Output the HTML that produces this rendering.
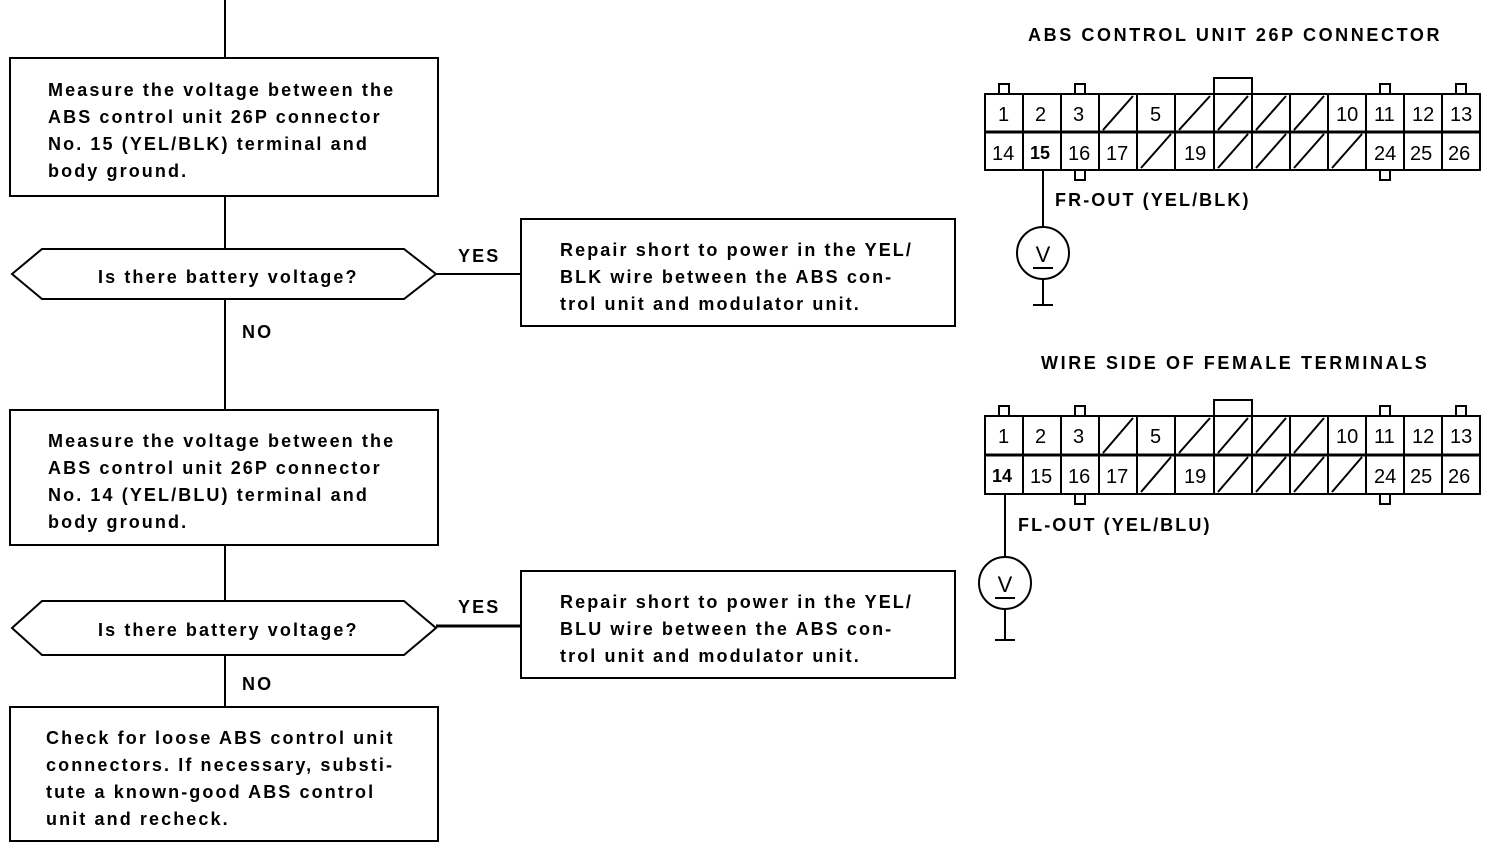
<!DOCTYPE html>
<html><head><meta charset="utf-8"><style>
html,body{margin:0;padding:0;background:#fff;}
svg{display:block;}
text{font-family:"Liberation Sans",sans-serif;font-size:18px;font-weight:bold;fill:#000;letter-spacing:2.1px;}
.h{letter-spacing:2.6px;}
.n{font-weight:normal;font-size:20px;letter-spacing:0;}
.c{text-anchor:middle;font-weight:normal;font-size:22px;letter-spacing:0;}
</style></head><body>
<svg width="1504" height="848" viewBox="0 0 1504 848" xmlns="http://www.w3.org/2000/svg">
<g stroke="#000" stroke-width="2" fill="none">
<line x1="225" y1="0" x2="225" y2="58"/>
<line x1="225" y1="196" x2="225" y2="249"/>
<line x1="225" y1="299" x2="225" y2="410"/>
<line x1="225" y1="545" x2="225" y2="601"/>
<line x1="225" y1="655" x2="225" y2="707"/>
<rect x="10" y="58" width="428" height="138"/>
<rect x="10" y="410" width="428" height="135"/>
<rect x="10" y="707" width="428" height="134"/>
<polygon points="12,274 42,249 404,249 436,274 404,299 42,299"/>
<polygon points="12,628 42,601 404,601 436,628 404,655 42,655"/>
<line x1="436" y1="274" x2="521" y2="274"/>
<line x1="436" y1="626" x2="521" y2="626" stroke-width="3"/>
<rect x="521" y="219" width="434" height="107"/>
<rect x="521" y="571" width="434" height="107"/>
</g>
<text x="48" y="96">Measure the voltage between the</text>
<text x="48" y="123">ABS control unit 26P connector</text>
<text x="48" y="150">No. 15 (YEL/BLK) terminal and</text>
<text x="48" y="177">body ground.</text>
<text x="98" y="283">Is there battery voltage?</text>
<text x="458" y="262">YES</text>
<text x="242" y="338">NO</text>
<text x="560" y="256">Repair short to power in the YEL/</text>
<text x="560" y="283">BLK wire between the ABS con-</text>
<text x="560" y="310">trol unit and modulator unit.</text>
<text x="48" y="447">Measure the voltage between the</text>
<text x="48" y="474">ABS control unit 26P connector</text>
<text x="48" y="501">No. 14 (YEL/BLU) terminal and</text>
<text x="48" y="528">body ground.</text>
<text x="98" y="636">Is there battery voltage?</text>
<text x="458" y="613">YES</text>
<text x="242" y="690">NO</text>
<text x="560" y="608">Repair short to power in the YEL/</text>
<text x="560" y="635">BLU wire between the ABS con-</text>
<text x="560" y="662">trol unit and modulator unit.</text>
<text x="46" y="744">Check for loose ABS control unit</text>
<text x="46" y="771">connectors. If necessary, substi-</text>
<text x="46" y="798">tute a known-good ABS control</text>
<text x="46" y="825">unit and recheck.</text>
<text class="h" x="1028" y="41">ABS CONTROL UNIT 26P CONNECTOR</text>
<text class="h" x="1041" y="369">WIRE SIDE OF FEMALE TERMINALS</text>
<text x="1055" y="206">FR-OUT (YEL/BLK)</text>
<text x="1018" y="531">FL-OUT (YEL/BLU)</text>

<!-- connector 1 -->
<g stroke="#000" stroke-width="2" fill="none">
<rect x="985" y="94" width="495" height="76"/>
<line x1="985" y1="132" x2="1480" y2="132" stroke-width="3"/>
<path d="M1023 94V170M1061 94V170M1099 94V170M1137 94V170M1175 94V170M1214 94V170M1252 94V170M1290 94V170M1328 94V170M1366 94V170M1404 94V170M1442 94V170"/>
<path d="M999 94V84H1009V94M1075 94V84H1085V94M1380 94V84H1390V94M1456 94V84H1466V94M1075 170V180H1085V170M1380 170V180H1390V170"/>
<rect x="1214" y="78" width="38" height="16"/>
<path d="M1103 130L1133 96M1179 130L1210 96M1218 130L1248 96M1256 130L1286 96M1294 130L1324 96M1141 168L1171 134M1218 168L1248 134M1256 168L1286 134M1294 168L1324 134M1332 168L1362 134"/>
<line x1="1043" y1="170" x2="1043" y2="227"/>
<circle cx="1043" cy="253" r="26"/>
<line x1="1043" y1="279" x2="1043" y2="305"/>
<line x1="1033" y1="305" x2="1053" y2="305"/>
<line x1="1033" y1="268" x2="1053" y2="268"/>
</g>
<text class="n" x="998" y="121">1</text><text class="n" x="1035" y="121">2</text><text class="n" x="1073" y="121">3</text><text class="n" x="1150" y="121">5</text>
<text class="n" x="1336" y="121">10</text><text class="n" x="1374" y="121">11</text><text class="n" x="1412" y="121">12</text><text class="n" x="1450" y="121">13</text>
<text class="n" x="992" y="160">14</text><text x="1030" y="159" style="letter-spacing:0">15</text><text class="n" x="1068" y="160">16</text><text class="n" x="1106" y="160">17</text><text class="n" x="1184" y="160">19</text>
<text class="n" x="1374" y="160">24</text><text class="n" x="1410" y="160">25</text><text class="n" x="1448" y="160">26</text>
<text class="c" x="1043" y="262">V</text>

<!-- connector 2 -->
<g stroke="#000" stroke-width="2" fill="none">
<rect x="985" y="416" width="495" height="78"/>
<line x1="985" y1="455" x2="1480" y2="455" stroke-width="3"/>
<path d="M1023 416V494M1061 416V494M1099 416V494M1137 416V494M1175 416V494M1214 416V494M1252 416V494M1290 416V494M1328 416V494M1366 416V494M1404 416V494M1442 416V494"/>
<path d="M999 416V406H1009V416M1075 416V406H1085V416M1380 416V406H1390V416M1456 416V406H1466V416M1075 494V504H1085V494M1380 494V504H1390V494"/>
<rect x="1214" y="400" width="38" height="16"/>
<path d="M1103 453L1133 418M1179 453L1210 418M1218 453L1248 418M1256 453L1286 418M1294 453L1324 418M1141 492L1171 457M1218 492L1248 457M1256 492L1286 457M1294 492L1324 457M1332 492L1362 457"/>
<line x1="1005" y1="494" x2="1005" y2="557"/>
<circle cx="1005" cy="583" r="26"/>
<line x1="1005" y1="609" x2="1005" y2="640"/>
<line x1="995" y1="640" x2="1015" y2="640"/>
<line x1="995" y1="598" x2="1015" y2="598"/>
</g>
<text class="n" x="998" y="443">1</text><text class="n" x="1035" y="443">2</text><text class="n" x="1073" y="443">3</text><text class="n" x="1150" y="443">5</text>
<text class="n" x="1336" y="443">10</text><text class="n" x="1374" y="443">11</text><text class="n" x="1412" y="443">12</text><text class="n" x="1450" y="443">13</text>
<text x="992" y="482" style="letter-spacing:0">14</text><text class="n" x="1030" y="483">15</text><text class="n" x="1068" y="483">16</text><text class="n" x="1106" y="483">17</text><text class="n" x="1184" y="483">19</text>
<text class="n" x="1374" y="483">24</text><text class="n" x="1410" y="483">25</text><text class="n" x="1448" y="483">26</text>
<text class="c" x="1005" y="592">V</text>
</svg>
</body></html>
